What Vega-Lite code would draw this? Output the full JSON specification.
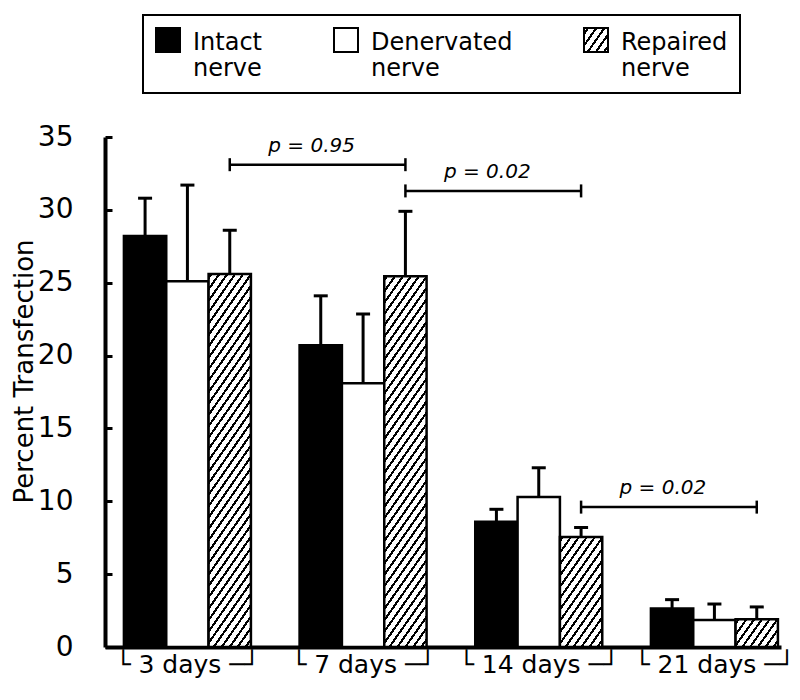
{
  "$schema": "https://vega.github.io/schema/vega-lite/v6.json",
  "width": 676,
  "height": 510,
  "autosize": {"type": "none"},
  "padding": {"left": 105, "top": 137, "right": 19, "bottom": 53},
  "background": "white",
  "config": {"view": {"stroke": null}, "font": "DejaVu Sans"},
  "datasets": {
    "bars": [
      {"Day": "3 days", "Series": "Intact nerve", "value": 28.2, "upper": 30.8},
      {"Day": "3 days", "Series": "Denervated nerve", "value": 25.1, "upper": 31.7},
      {"Day": "3 days", "Series": "Repaired nerve", "value": 25.6, "upper": 28.6},
      {"Day": "7 days", "Series": "Intact nerve", "value": 20.7, "upper": 24.1},
      {"Day": "7 days", "Series": "Denervated nerve", "value": 18.1, "upper": 22.85},
      {"Day": "7 days", "Series": "Repaired nerve", "value": 25.45, "upper": 29.9},
      {"Day": "14 days", "Series": "Intact nerve", "value": 8.6, "upper": 9.45},
      {"Day": "14 days", "Series": "Denervated nerve", "value": 10.3, "upper": 12.3},
      {"Day": "14 days", "Series": "Repaired nerve", "value": 7.55, "upper": 8.2},
      {"Day": "21 days", "Series": "Intact nerve", "value": 2.65, "upper": 3.25},
      {"Day": "21 days", "Series": "Denervated nerve", "value": 1.85, "upper": 2.95},
      {"Day": "21 days", "Series": "Repaired nerve", "value": 1.9, "upper": 2.75}
    ],
    "brackets": [
      {"from": "3 days", "to": "7 days", "level": 33.1, "label": "p = 0.95", "bar": "Repaired nerve"},
      {"from": "7 days", "to": "14 days", "level": 31.3, "label": "p = 0.02", "bar": "Repaired nerve"},
      {"from": "14 days", "to": "21 days", "level": 9.6, "label": "p = 0.02", "bar": "Repaired nerve"}
    ]
  },
  "layer": [
    {
      "data": {"name": "bars"},
      "mark": {"type": "bar", "stroke": "black", "strokeWidth": 2.5},
      "encoding": {
        "x": {
          "field": "Day", "type": "nominal", "title": null,
          "scale": {"domain": ["3 days", "7 days", "14 days", "21 days"], "paddingInner": 0.277, "paddingOuter": 0.0626, "align": 0.86},
          "axis": {"title": null, "ticks": false, "labelAngle": 0, "labelFontSize": 25, "labelFont": "DejaVu Sans", "labelColor": "black", "labelPadding": 5, "labelLimit": 300, "domainWidth": 4, "domainColor": "black", "labelExpr": "'└ ' + datum.label + ' ─┘'"}
        },
        "xOffset": {"field": "Series", "type": "nominal", "scale": {"domain": ["Intact nerve", "Denervated nerve", "Repaired nerve"], "paddingInner": 0, "paddingOuter": 0}},
        "y": {
          "field": "value", "type": "quantitative", "title": "Percent Transfection",
          "scale": {"domain": [0, 35], "nice": false},
          "axis": {"values": [0, 5, 10, 15, 20, 25, 30, 35], "grid": false, "tickSize": -7, "tickWidth": 3, "tickColor": "black", "labelPadding": 39, "labelFontSize": 28, "labelFont": "DejaVu Sans", "labelColor": "black", "domainWidth": 4, "domainColor": "black", "titleFontSize": 26, "titleFont": "DejaVu Sans", "titleFontWeight": "normal", "titleColor": "black", "titleAngle": -90, "titleX": -68, "titleY": 234, "titleBaseline": "bottom"}
        },
        "fill": {
          "field": "Series", "type": "nominal",
          "scale": {
            "domain": ["Intact nerve", "Denervated nerve", "Repaired nerve"],
            "range": ["black", "white", {"expr": "{gradient: 'linear', x1: 0, y1: 0, x2: 1.1408, y2: 0.799, stops: [{offset: 0, color: 'white'}, {offset: 0.07, color: 'white'}, {offset: 0.07, color: 'black'}, {offset: 0.1328, color: 'black'}, {offset: 0.1328, color: 'white'}, {offset: 0.27, color: 'white'}, {offset: 0.27, color: 'black'}, {offset: 0.3328, color: 'black'}, {offset: 0.3328, color: 'white'}, {offset: 0.47, color: 'white'}, {offset: 0.47, color: 'black'}, {offset: 0.5328, color: 'black'}, {offset: 0.5328, color: 'white'}, {offset: 0.67, color: 'white'}, {offset: 0.67, color: 'black'}, {offset: 0.7328, color: 'black'}, {offset: 0.7328, color: 'white'}, {offset: 0.87, color: 'white'}, {offset: 0.87, color: 'black'}, {offset: 0.9328, color: 'black'}, {offset: 0.9328, color: 'white'}, {offset: 1, color: 'white'}]}"}]
          },
          "legend": {
            "title": null, "orient": "none", "legendX": 38, "legendY": -122, "direction": "horizontal", "columns": 3,
            "columnPadding": 67, "labelOffset": 12, "symbolType": "square", "symbolSize": 576, "symbolStrokeColor": "black", "symbolStrokeWidth": 2,
            "labelFontSize": 24, "labelFont": "DejaVu Sans", "labelColor": "black", "labelLimit": 300, "padding": 12, "strokeColor": "black",
            "labelExpr": "split(datum.label, ' ')",
            "encode": {
              "labels": {"update": {"dy": {"value": 3}, "lineHeight": {"value": 26}}},
              "legend": {"update": {"strokeWidth": {"value": 2}}},
              "symbols": {"update": {"stroke": {"value": "black"}, "strokeWidth": {"value": 2}}}
            }
          },
          "condition": [
            {"test": "datum.Series === 'Repaired nerve' && (datum.Day === '3 days' || datum.Day === '7 days')", "value": {"gradient": "linear", "x1": 0, "y1": 0, "x2": 0.184, "y2": 1.132, "stops": [
              {"offset": 0, "color": "white"},
              {"offset": 0.0050, "color": "white"}, {"offset": 0.0050, "color": "black"}, {"offset": 0.0135, "color": "black"}, {"offset": 0.0135, "color": "white"},
              {"offset": 0.0313, "color": "white"}, {"offset": 0.0313, "color": "black"}, {"offset": 0.0398, "color": "black"}, {"offset": 0.0398, "color": "white"},
              {"offset": 0.0576, "color": "white"}, {"offset": 0.0576, "color": "black"}, {"offset": 0.0661, "color": "black"}, {"offset": 0.0661, "color": "white"},
              {"offset": 0.0839, "color": "white"}, {"offset": 0.0839, "color": "black"}, {"offset": 0.0924, "color": "black"}, {"offset": 0.0924, "color": "white"},
              {"offset": 0.1103, "color": "white"}, {"offset": 0.1103, "color": "black"}, {"offset": 0.1188, "color": "black"}, {"offset": 0.1188, "color": "white"},
              {"offset": 0.1366, "color": "white"}, {"offset": 0.1366, "color": "black"}, {"offset": 0.1451, "color": "black"}, {"offset": 0.1451, "color": "white"},
              {"offset": 0.1629, "color": "white"}, {"offset": 0.1629, "color": "black"}, {"offset": 0.1714, "color": "black"}, {"offset": 0.1714, "color": "white"},
              {"offset": 0.1892, "color": "white"}, {"offset": 0.1892, "color": "black"}, {"offset": 0.1977, "color": "black"}, {"offset": 0.1977, "color": "white"},
              {"offset": 0.2155, "color": "white"}, {"offset": 0.2155, "color": "black"}, {"offset": 0.2240, "color": "black"}, {"offset": 0.2240, "color": "white"},
              {"offset": 0.2418, "color": "white"}, {"offset": 0.2418, "color": "black"}, {"offset": 0.2503, "color": "black"}, {"offset": 0.2503, "color": "white"},
              {"offset": 0.2682, "color": "white"}, {"offset": 0.2682, "color": "black"}, {"offset": 0.2767, "color": "black"}, {"offset": 0.2767, "color": "white"},
              {"offset": 0.2945, "color": "white"}, {"offset": 0.2945, "color": "black"}, {"offset": 0.3030, "color": "black"}, {"offset": 0.3030, "color": "white"},
              {"offset": 0.3208, "color": "white"}, {"offset": 0.3208, "color": "black"}, {"offset": 0.3293, "color": "black"}, {"offset": 0.3293, "color": "white"},
              {"offset": 0.3471, "color": "white"}, {"offset": 0.3471, "color": "black"}, {"offset": 0.3556, "color": "black"}, {"offset": 0.3556, "color": "white"},
              {"offset": 0.3734, "color": "white"}, {"offset": 0.3734, "color": "black"}, {"offset": 0.3819, "color": "black"}, {"offset": 0.3819, "color": "white"},
              {"offset": 0.3997, "color": "white"}, {"offset": 0.3997, "color": "black"}, {"offset": 0.4082, "color": "black"}, {"offset": 0.4082, "color": "white"},
              {"offset": 0.4261, "color": "white"}, {"offset": 0.4261, "color": "black"}, {"offset": 0.4346, "color": "black"}, {"offset": 0.4346, "color": "white"},
              {"offset": 0.4524, "color": "white"}, {"offset": 0.4524, "color": "black"}, {"offset": 0.4609, "color": "black"}, {"offset": 0.4609, "color": "white"},
              {"offset": 0.4787, "color": "white"}, {"offset": 0.4787, "color": "black"}, {"offset": 0.4872, "color": "black"}, {"offset": 0.4872, "color": "white"},
              {"offset": 0.5050, "color": "white"}, {"offset": 0.5050, "color": "black"}, {"offset": 0.5135, "color": "black"}, {"offset": 0.5135, "color": "white"},
              {"offset": 0.5313, "color": "white"}, {"offset": 0.5313, "color": "black"}, {"offset": 0.5398, "color": "black"}, {"offset": 0.5398, "color": "white"},
              {"offset": 0.5576, "color": "white"}, {"offset": 0.5576, "color": "black"}, {"offset": 0.5661, "color": "black"}, {"offset": 0.5661, "color": "white"},
              {"offset": 0.5839, "color": "white"}, {"offset": 0.5839, "color": "black"}, {"offset": 0.5924, "color": "black"}, {"offset": 0.5924, "color": "white"},
              {"offset": 0.6103, "color": "white"}, {"offset": 0.6103, "color": "black"}, {"offset": 0.6188, "color": "black"}, {"offset": 0.6188, "color": "white"},
              {"offset": 0.6366, "color": "white"}, {"offset": 0.6366, "color": "black"}, {"offset": 0.6451, "color": "black"}, {"offset": 0.6451, "color": "white"},
              {"offset": 0.6629, "color": "white"}, {"offset": 0.6629, "color": "black"}, {"offset": 0.6714, "color": "black"}, {"offset": 0.6714, "color": "white"},
              {"offset": 0.6892, "color": "white"}, {"offset": 0.6892, "color": "black"}, {"offset": 0.6977, "color": "black"}, {"offset": 0.6977, "color": "white"},
              {"offset": 0.7155, "color": "white"}, {"offset": 0.7155, "color": "black"}, {"offset": 0.7240, "color": "black"}, {"offset": 0.7240, "color": "white"},
              {"offset": 0.7418, "color": "white"}, {"offset": 0.7418, "color": "black"}, {"offset": 0.7503, "color": "black"}, {"offset": 0.7503, "color": "white"},
              {"offset": 0.7682, "color": "white"}, {"offset": 0.7682, "color": "black"}, {"offset": 0.7767, "color": "black"}, {"offset": 0.7767, "color": "white"},
              {"offset": 0.7945, "color": "white"}, {"offset": 0.7945, "color": "black"}, {"offset": 0.8030, "color": "black"}, {"offset": 0.8030, "color": "white"},
              {"offset": 0.8208, "color": "white"}, {"offset": 0.8208, "color": "black"}, {"offset": 0.8293, "color": "black"}, {"offset": 0.8293, "color": "white"},
              {"offset": 0.8471, "color": "white"}, {"offset": 0.8471, "color": "black"}, {"offset": 0.8556, "color": "black"}, {"offset": 0.8556, "color": "white"},
              {"offset": 0.8734, "color": "white"}, {"offset": 0.8734, "color": "black"}, {"offset": 0.8819, "color": "black"}, {"offset": 0.8819, "color": "white"},
              {"offset": 0.8997, "color": "white"}, {"offset": 0.8997, "color": "black"}, {"offset": 0.9082, "color": "black"}, {"offset": 0.9082, "color": "white"},
              {"offset": 0.9261, "color": "white"}, {"offset": 0.9261, "color": "black"}, {"offset": 0.9346, "color": "black"}, {"offset": 0.9346, "color": "white"},
              {"offset": 0.9524, "color": "white"}, {"offset": 0.9524, "color": "black"}, {"offset": 0.9609, "color": "black"}, {"offset": 0.9609, "color": "white"},
              {"offset": 0.9787, "color": "white"}, {"offset": 0.9787, "color": "black"}, {"offset": 0.9872, "color": "black"}, {"offset": 0.9872, "color": "white"},
              {"offset": 1, "color": "white"}
            ]}},
            {"test": "datum.Series === 'Repaired nerve' && datum.Day === '14 days'", "value": {"gradient": "linear", "x1": 0, "y1": 0, "x2": 0.6536, "y2": 1.1902, "stops": [
              {"offset": 0, "color": "white"},
              {"offset": 0.0150, "color": "white"}, {"offset": 0.0150, "color": "black"}, {"offset": 0.0363, "color": "black"}, {"offset": 0.0363, "color": "white"},
              {"offset": 0.0817, "color": "white"}, {"offset": 0.0817, "color": "black"}, {"offset": 0.1030, "color": "black"}, {"offset": 0.1030, "color": "white"},
              {"offset": 0.1483, "color": "white"}, {"offset": 0.1483, "color": "black"}, {"offset": 0.1696, "color": "black"}, {"offset": 0.1696, "color": "white"},
              {"offset": 0.2150, "color": "white"}, {"offset": 0.2150, "color": "black"}, {"offset": 0.2363, "color": "black"}, {"offset": 0.2363, "color": "white"},
              {"offset": 0.2817, "color": "white"}, {"offset": 0.2817, "color": "black"}, {"offset": 0.3030, "color": "black"}, {"offset": 0.3030, "color": "white"},
              {"offset": 0.3483, "color": "white"}, {"offset": 0.3483, "color": "black"}, {"offset": 0.3696, "color": "black"}, {"offset": 0.3696, "color": "white"},
              {"offset": 0.4150, "color": "white"}, {"offset": 0.4150, "color": "black"}, {"offset": 0.4363, "color": "black"}, {"offset": 0.4363, "color": "white"},
              {"offset": 0.4817, "color": "white"}, {"offset": 0.4817, "color": "black"}, {"offset": 0.5030, "color": "black"}, {"offset": 0.5030, "color": "white"},
              {"offset": 0.5483, "color": "white"}, {"offset": 0.5483, "color": "black"}, {"offset": 0.5696, "color": "black"}, {"offset": 0.5696, "color": "white"},
              {"offset": 0.6150, "color": "white"}, {"offset": 0.6150, "color": "black"}, {"offset": 0.6363, "color": "black"}, {"offset": 0.6363, "color": "white"},
              {"offset": 0.6817, "color": "white"}, {"offset": 0.6817, "color": "black"}, {"offset": 0.7030, "color": "black"}, {"offset": 0.7030, "color": "white"},
              {"offset": 0.7483, "color": "white"}, {"offset": 0.7483, "color": "black"}, {"offset": 0.7696, "color": "black"}, {"offset": 0.7696, "color": "white"},
              {"offset": 0.8150, "color": "white"}, {"offset": 0.8150, "color": "black"}, {"offset": 0.8363, "color": "black"}, {"offset": 0.8363, "color": "white"},
              {"offset": 0.8817, "color": "white"}, {"offset": 0.8817, "color": "black"}, {"offset": 0.9030, "color": "black"}, {"offset": 0.9030, "color": "white"},
              {"offset": 0.9483, "color": "white"}, {"offset": 0.9483, "color": "black"}, {"offset": 0.9696, "color": "black"}, {"offset": 0.9696, "color": "white"},
              {"offset": 1, "color": "white"}
            ]}},
            {"test": "datum.Series === 'Repaired nerve' && datum.Day === '21 days'", "value": {"gradient": "linear", "x1": 0, "y1": 0, "x2": 1.2047, "y2": 0.5584, "stops": [
              {"offset": 0, "color": "white"},
              {"offset": 0.0300, "color": "white"}, {"offset": 0.0300, "color": "black"}, {"offset": 0.0709, "color": "black"}, {"offset": 0.0709, "color": "white"},
              {"offset": 0.1550, "color": "white"}, {"offset": 0.1550, "color": "black"}, {"offset": 0.1959, "color": "black"}, {"offset": 0.1959, "color": "white"},
              {"offset": 0.2800, "color": "white"}, {"offset": 0.2800, "color": "black"}, {"offset": 0.3209, "color": "black"}, {"offset": 0.3209, "color": "white"},
              {"offset": 0.4050, "color": "white"}, {"offset": 0.4050, "color": "black"}, {"offset": 0.4459, "color": "black"}, {"offset": 0.4459, "color": "white"},
              {"offset": 0.5300, "color": "white"}, {"offset": 0.5300, "color": "black"}, {"offset": 0.5709, "color": "black"}, {"offset": 0.5709, "color": "white"},
              {"offset": 0.6550, "color": "white"}, {"offset": 0.6550, "color": "black"}, {"offset": 0.6959, "color": "black"}, {"offset": 0.6959, "color": "white"},
              {"offset": 0.7800, "color": "white"}, {"offset": 0.7800, "color": "black"}, {"offset": 0.8209, "color": "black"}, {"offset": 0.8209, "color": "white"},
              {"offset": 0.9050, "color": "white"}, {"offset": 0.9050, "color": "black"}, {"offset": 0.9459, "color": "black"}, {"offset": 0.9459, "color": "white"},
              {"offset": 1, "color": "white"}
            ]}}
          ]
        }
      }
    },
    {
      "data": {"name": "bars"},
      "mark": {"type": "rule", "color": "black", "strokeWidth": 3},
      "encoding": {
        "x": {"field": "Day", "type": "nominal", "title": null},
        "xOffset": {"field": "Series", "type": "nominal"},
        "y": {"field": "value", "type": "quantitative", "title": "Percent Transfection"},
        "y2": {"field": "upper"}
      }
    },
    {
      "data": {"name": "bars"},
      "mark": {"type": "tick", "orient": "horizontal", "color": "black", "size": 14, "thickness": 3, "opacity": 1},
      "encoding": {
        "x": {"field": "Day", "type": "nominal", "title": null},
        "xOffset": {"field": "Series", "type": "nominal"},
        "y": {"field": "upper", "type": "quantitative", "title": "Percent Transfection"}
      }
    },
    {
      "data": {"name": "brackets"},
      "transform": [{"fold": ["from", "to"], "as": ["end", "Day"]}],
      "mark": {"type": "line", "color": "black", "strokeWidth": 2.5},
      "encoding": {
        "x": {"field": "Day", "type": "nominal", "title": null},
        "xOffset": {"field": "bar", "type": "nominal"},
        "y": {"field": "level", "type": "quantitative", "title": "Percent Transfection"},
        "detail": {"field": "level", "type": "quantitative"}
      }
    },
    {
      "data": {"name": "brackets"},
      "transform": [{"fold": ["from", "to"], "as": ["end", "Day"]}],
      "mark": {"type": "tick", "orient": "vertical", "color": "black", "size": 13, "thickness": 2.5, "opacity": 1},
      "encoding": {
        "x": {"field": "Day", "type": "nominal", "title": null},
        "xOffset": {"field": "bar", "type": "nominal"},
        "y": {"field": "level", "type": "quantitative", "title": "Percent Transfection"}
      }
    },
    {
      "data": {"name": "brackets"},
      "mark": {"type": "text", "font": "DejaVu Sans", "fontStyle": "italic", "fontSize": 20, "align": "center", "baseline": "alphabetic", "dx": 12, "dy": -13, "color": "black"},
      "encoding": {
        "x": {"field": "to", "type": "nominal", "bandPosition": 0, "title": null},
        "y": {"field": "level", "type": "quantitative", "title": "Percent Transfection"},
        "text": {"field": "label"}
      }
    }
  ]
}
